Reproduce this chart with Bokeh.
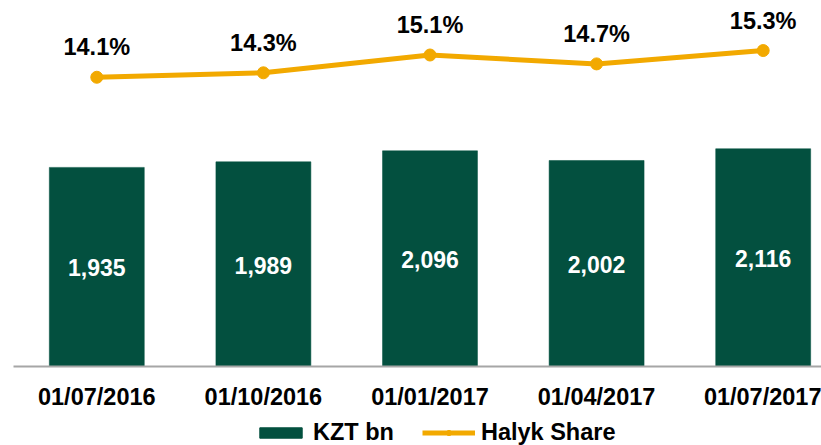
from bokeh.plotting import figure
from bokeh.layouts import column
from bokeh.models import (ColumnDataSource, Range1d, FixedTicker,
                          LabelSet, Legend, LegendItem)
from bokeh.core.properties import value
from bokeh.embed import file_html
from bokeh.resources import INLINE

# ---- data ----
dates = ["01/07/2016", "01/10/2016", "01/01/2017", "01/04/2017", "01/07/2017"]
kzt_bn = [1935, 1989, 2096, 2002, 2116]
halyk_share = [14.1, 14.3, 15.1, 14.7, 15.3]
series_names = ["KZT bn", "Halyk Share"]

GREEN = "#03503F"
ORANGE = "#F2A900"
FONT = "Liberation Sans"

idx = list(range(len(dates)))
src = ColumnDataSource(dict(
    x=idx,
    kzt=kzt_bn,
    kzt_mid=[v / 2 for v in kzt_bn],
    kzt_lbl=[f"{v:,}" for v in kzt_bn],
    share=halyk_share,
    share_lbl=[f"{v:.1f}%" for v in halyk_share],
))

p = figure(width=821, height=412, output_backend="svg", toolbar_location=None,
           x_range=Range1d(-0.5, 4.35), y_range=Range1d(0, 3479),
           y_axis_location=None, min_border_left=13, min_border_right=0,
           min_border_top=8, min_border_bottom=46)
p.extra_y_ranges = {"share": Range1d(1.10, 17.19)}
p.outline_line_color = None
p.xgrid.grid_line_color = None
p.ygrid.grid_line_color = None

p.vbar(x="x", top="kzt", width=0.57, source=src, fill_color=GREEN,
       line_color=GREEN, line_width=0.5)
p.line(x="x", y="share", source=src, y_range_name="share",
       line_color=ORANGE, line_width=5)
p.scatter(x="x", y="share", source=src, y_range_name="share",
          marker="circle", size=12, fill_color=ORANGE, line_color=ORANGE)

xa = p.xaxis[0]
xa.ticker = FixedTicker(ticks=idx)
xa.major_label_overrides = {i: d for i, d in zip(idx, dates)}
xa.major_tick_line_color = None
xa.minor_tick_line_color = None
xa.axis_line_color = "#A6A6A6"
xa.axis_line_width = 2
xa.major_label_standoff = 11
xa.major_label_text_font = FONT
xa.major_label_text_font_style = "bold"
xa.major_label_text_font_size = "23.5px"
xa.major_label_text_color = "black"

p.add_layout(LabelSet(x="x", y="kzt_mid", text="kzt_lbl", source=src,
                      text_align="center", text_baseline="middle", y_offset=-1,
                      text_font=value(FONT), text_font_style="bold",
                      text_font_size="23px", text_color="white"))
p.add_layout(LabelSet(x="x", y="share", text="share_lbl", source=src,
                      y_range_name="share",
                      text_align="center", text_baseline="alphabetic", y_offset=22,
                      text_font=value(FONT), text_font_style="bold",
                      text_font_size="23.5px", text_color="black"))

# ---- legend strip: same series, placed far outside this strip's view ----
lg = figure(width=821, height=33, output_backend="svg", toolbar_location=None,
            x_range=Range1d(-0.5, 4.35), y_range=Range1d(1e6, 2e6),
            x_axis_location=None, y_axis_location=None,
            min_border_left=13, min_border_right=0,
            min_border_top=0, min_border_bottom=0)
lg.outline_line_color = None
lg.xgrid.grid_line_color = None
lg.ygrid.grid_line_color = None
k_bar = lg.vbar(x="x", top="kzt", width=0.57, source=src,
                fill_color=GREEN, line_color=GREEN)
k_line = lg.line(x="x", y="share", source=src, line_color=ORANGE, line_width=5)
k_dot = lg.scatter(x="x", y="share", source=src, marker="circle", size=12,
                   fill_color=ORANGE, line_color=ORANGE)

legend = Legend(items=[LegendItem(label=series_names[0], renderers=[k_bar]),
                       LegendItem(label=series_names[1], renderers=[k_line, k_dot])],
                orientation="horizontal", location=(241, -1),
                glyph_width=53, glyph_height=13, label_standoff=6, spacing=28,
                padding=0, margin=0, border_line_color=None,
                background_fill_alpha=0,
                label_text_font=FONT, label_text_font_style="bold",
                label_text_font_size="23.5px", label_text_color="black")
lg.add_layout(legend, "center")

layout = column(p, lg, spacing=0)
open("out.html", "w").write(file_html(layout, INLINE))
